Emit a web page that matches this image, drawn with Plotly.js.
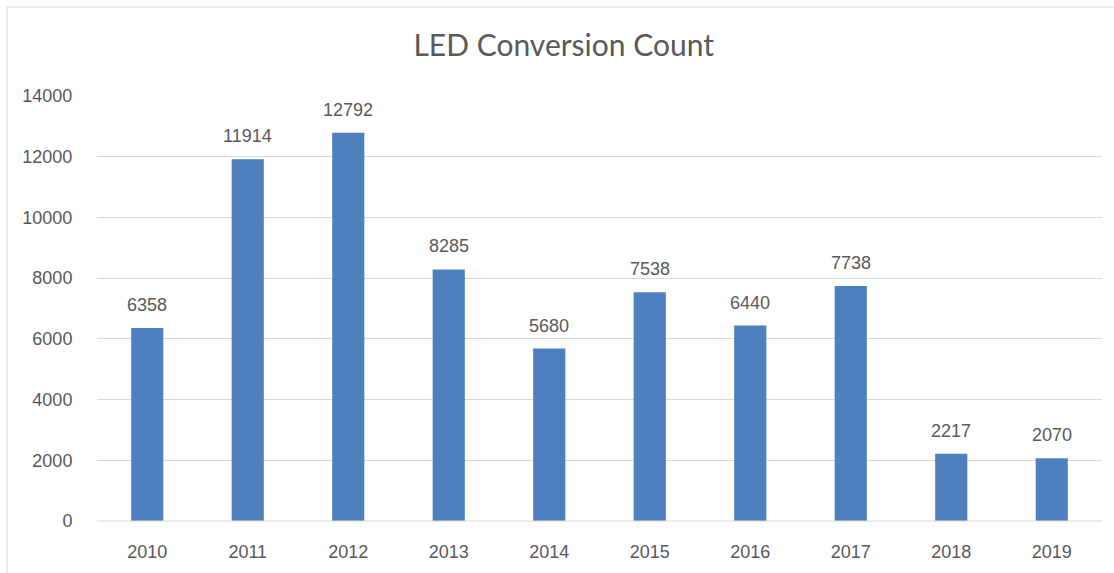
<!DOCTYPE html>
<html>
<head>
<meta charset="utf-8">
<script src="https://cdn.plot.ly/plotly-3.0.1.min.js"></script>
<style>html,body{margin:0;padding:0;background:#fff;}#chart{width:1114px;height:573px;}</style>
</head>
<body>
<div id="chart"></div>
<script>
const years = ['2010','2011','2012','2013','2014','2015','2016','2017','2018','2019'];
const counts = [6358, 11914, 12792, 8285, 5680, 7538, 6440, 7738, 2217, 2070];
const yTicks = [0, 2000, 4000, 6000, 8000, 10000, 12000, 14000];

const textColor = '#595959';
const trace = {
  type: 'bar',
  x: years,
  y: counts,
  marker: {color: '#4e80bf'},
  hoverinfo: 'x+y'
};
const annotations = years.map((yr, i) => ({
  x: i, y: counts[i], xref: 'x', yref: 'y',
  text: String(counts[i]), showarrow: false,
  yanchor: 'bottom', yshift: 11,
  font: {family: 'Liberation Sans, Arial, sans-serif', size: 18, color: textColor}
}));
const layout = {
  width: 1114, height: 573,
  margin: {l: 97, r: 12, t: 96, b: 52},
  paper_bgcolor: '#ffffff', plot_bgcolor: '#ffffff',
  title: {text: 'LED Conversion Count', x: 0.506, xref: 'container', y: 0.921, yanchor: 'middle',
          font: {family: 'Lato, Open Sans, sans-serif', size: 30, color: textColor}},
  bargap: 0.68,
  showlegend: false,
  xaxis: {type: 'category', range: [-0.5, years.length - 0.5], showgrid: false, zeroline: false, showline: false,
          ticks: 'outside', ticklen: 14, tickcolor: 'rgba(0,0,0,0)',
          tickfont: {family: 'Liberation Sans, Arial, sans-serif', size: 18, color: textColor}},
  yaxis: {range: [0, 14000], tickvals: yTicks, ticktext: yTicks.map(String),
          showgrid: true, gridcolor: '#d9d9d9', gridwidth: 1, zeroline: false, showline: false,
          ticks: 'outside', ticklen: 20, tickcolor: 'rgba(0,0,0,0)',
          tickfont: {family: 'Liberation Sans, Arial, sans-serif', size: 18, color: textColor}},
  shapes: [{type: 'rect', xref: 'paper', yref: 'paper', x0: -0.0896, x1: 1.05, y0: -0.3, y1: 1.2094,
            line: {color: '#d9d9d9', width: 1}, layer: 'below'},
           {type: 'line', xref: 'paper', yref: 'paper', x0: 0, x1: 1, y0: 0, y1: 0,
            line: {color: '#d9d9d9', width: 1}}],
  annotations: annotations
};
Plotly.newPlot('chart', [trace], layout, {displayModeBar: false, staticPlot: true});
</script>
</body>
</html>
